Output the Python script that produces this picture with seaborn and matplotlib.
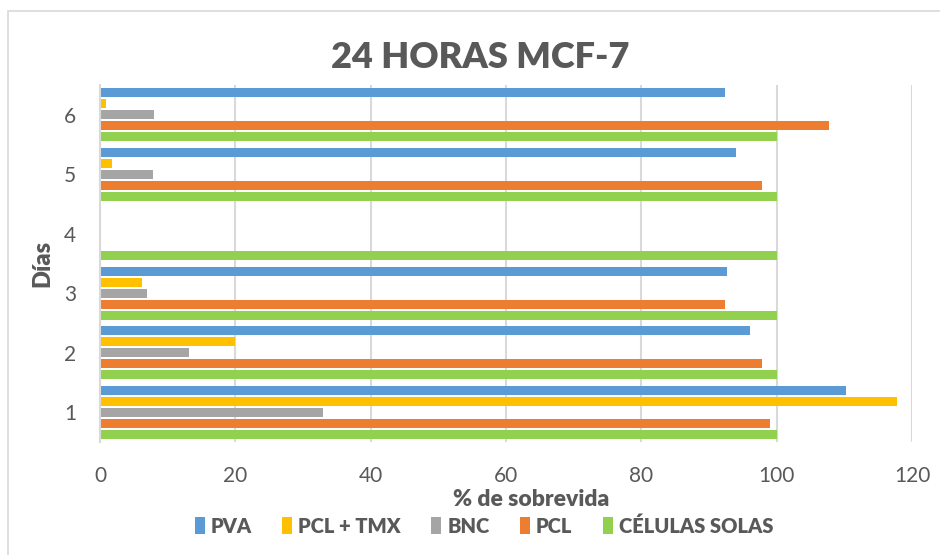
import matplotlib.pyplot as plt
import matplotlib.patches as mpatches
import pandas as pd
import seaborn as sns

sns.set_theme(style="white")
plt.rcParams["font.family"] = ["Lato", "DejaVu Sans"]

# datos
dias = ["1", "2", "3", "4", "5", "6"]
series = ["PVA", "PCL + TMX", "BNC", "PCL", "CÉLULAS SOLAS"]
pva = [110.3, 96.0, 92.6, 0, 94.0, 92.3]
pcl_tmx = [117.8, 20.0, 6.2, 0, 1.8, 0.9]
bnc = [33.0, 13.1, 7.0, 0, 7.8, 8.0]
pcl = [99.0, 97.8, 92.4, 0, 97.9, 107.8]
celulas = [100, 100, 100, 100, 100, 100]

colores = ["#5B9BD5", "#FFC000", "#A5A5A5", "#ED7D31", "#92D050"]
TXT = "#595959"


def build_df():
    rows = []
    for nombre, vals in zip(series, [pva, pcl_tmx, bnc, pcl, celulas]):
        for d, v in zip(dias, vals):
            rows.append({"dia": d, "serie": nombre, "valor": v})
    return pd.DataFrame(rows)


def main():
    df = build_df()
    fig = plt.figure(figsize=(9.4, 5.55), dpi=100)
    ax = fig.add_axes([100 / 940, 113 / 555, 812 / 940, 357 / 555])

    sns.barplot(data=df, x="valor", y="dia", hue="serie", orient="h",
                order=dias[::-1], hue_order=series, palette=colores,
                width=0.925, gap=0.22, linewidth=0, errorbar=None,
                saturation=1, ax=ax)

    ax.set_xlim(0, 120)
    ax.set_xticks(range(0, 121, 20))
    ax.xaxis.grid(True, color="#D9D9D9", linewidth=1.5)
    ax.yaxis.grid(False)
    ax.set_axisbelow(True)
    for side in ["top", "right", "bottom"]:
        ax.spines[side].set_visible(False)
    ax.spines["left"].set_color("#D9D9D9")
    ax.spines["left"].set_linewidth(1.5)
    ax.tick_params(axis="x", length=0, pad=17, labelsize=15, labelcolor=TXT)
    ax.tick_params(axis="y", length=0, pad=17, labelsize=15, labelcolor=TXT)

    ax.set_xlabel("% de sobrevida", fontsize=16.5, fontweight="heavy", color=TXT)
    ax.xaxis.set_label_coords((531 - 100) / 812, -(489 - 442) / 357)
    ax.set_ylabel("Días", fontsize=17, fontweight="heavy", color=TXT, labelpad=8)

    handles, labels = ax.get_legend_handles_labels()
    ax.get_legend().remove()
    fig.legend(handles, labels, loc="center", bbox_to_anchor=(484 / 940, 1 - 526 / 555),
               ncol=5, frameon=False, handlelength=0.5, handleheight=0.9,
               handletextpad=0.3, columnspacing=1.5,
               prop={"size": 14.5, "weight": "heavy"}, labelcolor=TXT)

    fig.text(480 / 940, 1 - 58 / 555, "24 HORAS MCF-7", ha="center", va="center",
             fontsize=26, fontweight="heavy", color=TXT)

    # borde del area del grafico
    borde = mpatches.Rectangle((8 / 940, -0.1), 1.2, 1 - 11 / 555 + 0.1,
                               transform=fig.transFigure, fill=False,
                               edgecolor="#D9D9D9", linewidth=1.2)
    fig.patches.append(borde)

    fig.savefig("out.png", dpi=100)
    plt.close(fig)


if __name__ == "__main__":
    main()
